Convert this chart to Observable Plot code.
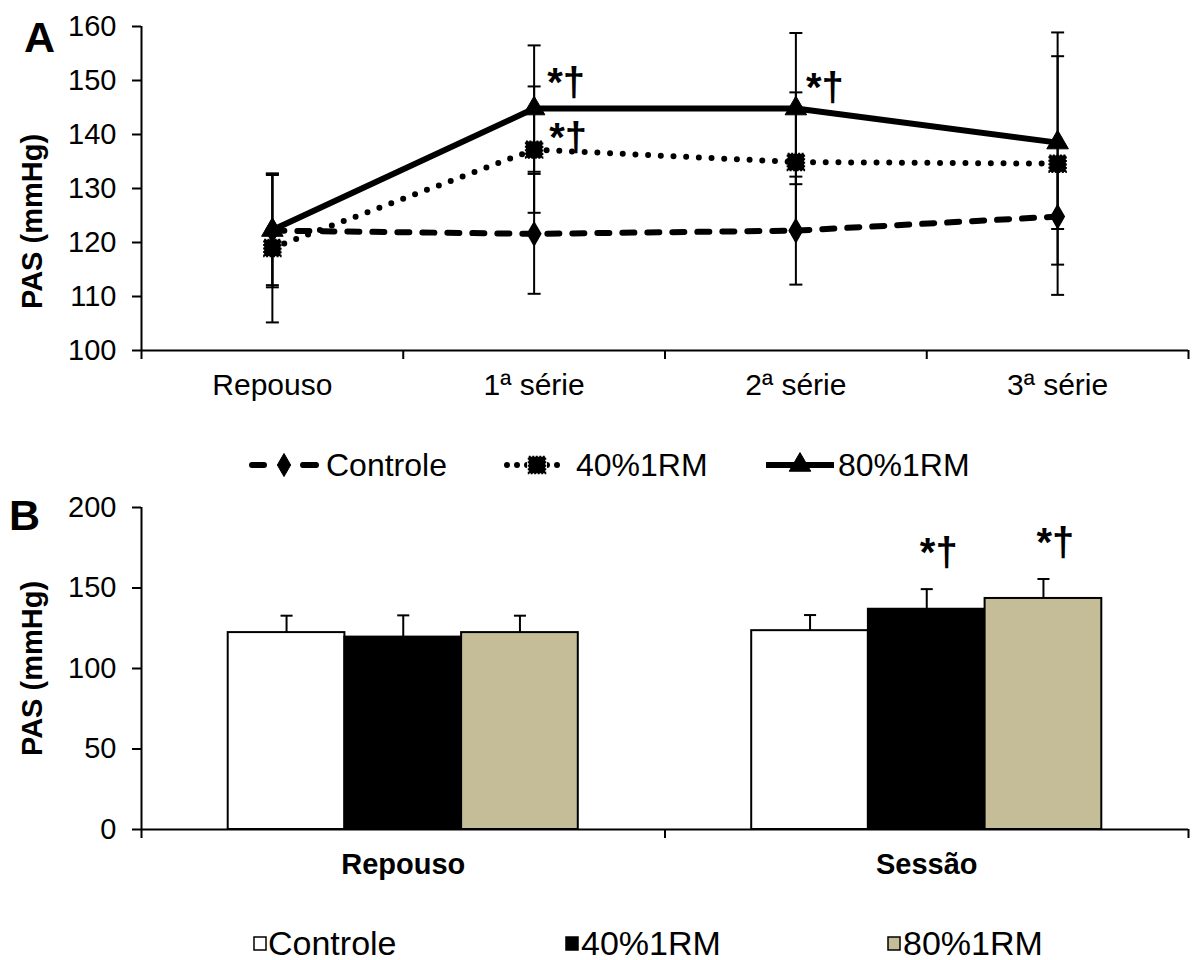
<!DOCTYPE html>
<html>
<head>
<meta charset="utf-8">
<script src="https://cdn.jsdelivr.net/npm/d3@7"></script>
<script src="https://cdn.jsdelivr.net/npm/@observablehq/plot@0.6"></script>
<style>
  body { margin: 0; background: #fff; font-family: "Liberation Sans", Arial, sans-serif; color: #000; }
  #wrap { position: relative; width: 1195px; height: 960px; overflow: hidden; }
  .panel { position: absolute; left: 0; }
  .letter { position: absolute; font-weight: bold; font-size: 43px; line-height: 43px; }
  .leg { position: absolute; display: flex; align-items: center; height: 40px; white-space: nowrap; }
  .leg svg { display: block; }
</style>
</head>
<body>
<div id="wrap">
  <div id="panelA" class="panel" style="top:0px"></div>
  <div class="letter" style="left:24px;top:16px">A</div>
  <div id="legendA"></div>
  <div id="panelB" class="panel" style="top:490px"></div>
  <div class="letter" style="left:9px;top:494px">B</div>
  <div id="legendB"></div>
</div>
<script>
// ---------------- data ----------------
const stagesA = ["Repouso", "1ª série", "2ª série", "3ª série"];
const groups = ["Controle", "40%1RM", "80%1RM"];

// Panel A: means and SD per stage
const meanControle = [122.2, 121.6, 122.2, 124.8];
const sdControle   = [10.5, 11.1, 10.0, 8.9];
const mean40       = [119.0, 137.2, 134.9, 134.6];
const sd40         = [13.8, 11.7, 12.9, 24.3];
const mean80       = [122.3, 144.8, 144.8, 138.5];
const sd80         = [10.2, 11.7, 14.0, 16.0];
const yTicksA = [100, 110, 120, 130, 140, 150, 160];
const sigA = [
  {stage: "1ª série", group: "80%1RM", label: "*†"},
  {stage: "1ª série", group: "40%1RM", label: "*†"},
  {stage: "2ª série", group: "80%1RM", label: "*†"}
];

// Panel B: bars (mean + SD)
const periodsB = ["Repouso", "Sessão"];
const barControle   = [122.3, 123.5];
const barControleSd = [10.5, 9.7];
const bar40         = [119.5, 136.8];
const bar40Sd       = [13.5, 12.5];
const bar80         = [122.3, 143.5];
const bar80Sd       = [10.5, 12.1];
const yTicksB = [0, 50, 100, 150, 200];
const sigB = [
  {period: "Sessão", group: "40%1RM", label: "*†"},
  {period: "Sessão", group: "80%1RM", label: "*†"}
];

// ---------------- tables ----------------
const seriesA = [
  {group: "Controle", mean: meanControle, sd: sdControle},
  {group: "40%1RM", mean: mean40, sd: sd40},
  {group: "80%1RM", mean: mean80, sd: sd80}
];
const rowsA = seriesA.flatMap(s => stagesA.map((st, i) => ({group: s.group, stage: st, pos: i + 0.5, mean: s.mean[i], sd: s.sd[i]})));
const ofA = g => rowsA.filter(d => d.group === g);
const findA = a => rowsA.find(d => d.stage === a.stage && d.group === a.group);

const seriesB = [
  {group: "Controle", mean: barControle, sd: barControleSd},
  {group: "40%1RM", mean: bar40, sd: bar40Sd},
  {group: "80%1RM", mean: bar80, sd: bar80Sd}
];
const rowsB = periodsB.flatMap((p, pi) => seriesB.map(s => ({period: p, pi, group: s.group, value: s.mean[pi], sd: s.sd[pi]})));
const inner = d3.scaleBand().domain(groups).range([0, 1]).paddingInner(0).paddingOuter(0.743);
const bx1 = d => d.pi + inner(d.group);
const bx2 = d => d.pi + inner(d.group) + inner.bandwidth();
const bxc = d => d.pi + inner(d.group) + inner.bandwidth() / 2;
const findB = a => rowsB.find(d => d.period === a.period && d.group === a.group);

// ---------------- styles ----------------
const FONT = "'Liberation Sans', Arial, sans-serif";
const capSymbol = {draw(ctx, size) { const w = Math.sqrt(size) / 2; ctx.moveTo(-w, 0); ctx.lineTo(w, 0); }};
const colorsB = ["#ffffff", "#000000", "#C4BD97"];
const R_DIA = 7, R_SQ = 9.3, R_TRI = 8;

// ---------------- Panel A ----------------
const chartA = Plot.plot({
  width: 1195, height: 410,
  marginLeft: 141, marginRight: 7, marginTop: 26, marginBottom: 60,
  style: {fontFamily: FONT, fontSize: "28px", color: "black", background: "white", overflow: "visible"},
  x: {domain: [0, 4]},
  y: {domain: [100, 160]},
  marks: [
    Plot.ruleX([0], {y1: 100, y2: 160, strokeWidth: 2}),
    Plot.ruleY([100], {strokeWidth: 2}),
    Plot.axisY({ticks: yTicksA, tickSize: 9, tickPadding: 16, strokeWidth: 2, fontSize: 29, label: null}),
    Plot.axisX({ticks: [0, 1, 2, 3, 4], tickSize: 9, tickFormat: () => "", strokeWidth: 2, label: null}),
    Plot.axisX({ticks: stagesA.map((s, i) => i + 0.5), tickSize: 0, tickPadding: 23, tickFormat: v => stagesA[Math.round(v - 0.5)], fontSize: 30, label: null}),
    Plot.text(["PAS (mmHg)"], {text: d => d, frameAnchor: "left", textAnchor: "middle", rotate: -90, dx: -109, dy: 33, fontWeight: "bold", fontSize: 29}),
    // lines
    Plot.line(ofA("Controle"), {x: "pos", y: "mean", stroke: "black", strokeWidth: 6, strokeDasharray: "12 13", strokeLinecap: "round"}),
    Plot.line(ofA("40%1RM"), {x: "pos", y: "mean", stroke: "black", strokeWidth: 6, strokeDasharray: "0 12.7", strokeLinecap: "round"}),
    Plot.line(ofA("80%1RM"), {x: "pos", y: "mean", stroke: "black", strokeWidth: 6}),
    // error bars
    Plot.ruleX(rowsA, {x: "pos", y1: d => d.mean - d.sd, y2: d => d.mean + d.sd, stroke: "black", strokeWidth: 2}),
    Plot.dot(rowsA, {x: "pos", y: d => d.mean + d.sd, symbol: capSymbol, r: 7.33, stroke: "black", fill: "none", strokeWidth: 2}),
    Plot.dot(rowsA, {x: "pos", y: d => d.mean - d.sd, symbol: capSymbol, r: 7.33, stroke: "black", fill: "none", strokeWidth: 2}),
    // markers
    Plot.dot(ofA("Controle"), {x: "pos", y: "mean", symbol: "diamond", r: R_DIA, fill: "black", stroke: "black", strokeWidth: 1.5}),
    Plot.dot(ofA("40%1RM"), {x: "pos", y: "mean", symbol: "square", r: R_SQ, fill: "black", stroke: "black", strokeWidth: 2, strokeDasharray: "2 1.5"}),
    Plot.dot(ofA("80%1RM"), {x: "pos", y: "mean", symbol: "triangle", r: R_TRI, fill: "black", stroke: "black", strokeWidth: 1}),
    // significance marks
    Plot.text([findA(sigA[0])], {x: "pos", y: "mean", text: () => sigA[0].label, textAnchor: "start", dx: 13, dy: -25, fontSize: 40, fontWeight: "bold"}),
    Plot.text([findA(sigA[1])], {x: "pos", y: "mean", text: () => sigA[1].label, textAnchor: "start", dx: 15, dy: -11, fontSize: 40, fontWeight: "bold"}),
    Plot.text([findA(sigA[2])], {x: "pos", y: "mean", text: () => sigA[2].label, textAnchor: "start", dx: 10, dy: -20, fontSize: 40, fontWeight: "bold"})
  ]
});
document.getElementById("panelA").appendChild(chartA);

// ---------------- Panel B ----------------
const chartB = Plot.plot({
  width: 1195, height: 399,
  marginLeft: 141, marginRight: 7, marginTop: 17, marginBottom: 60,
  style: {fontFamily: FONT, fontSize: "28px", color: "black", background: "white", overflow: "visible"},
  x: {domain: [0, 2]},
  y: {domain: [0, 200]},
  color: {domain: groups, range: colorsB},
  marks: [
    Plot.rectY(rowsB, {x1: bx1, x2: bx2, y1: 0, y2: "value", fill: "group", stroke: "black", strokeWidth: 2}),
    Plot.ruleX(rowsB, {x: bxc, y1: "value", y2: d => d.value + d.sd, stroke: "black", strokeWidth: 2}),
    Plot.dot(rowsB, {x: bxc, y: d => d.value + d.sd, symbol: capSymbol, r: 6.8, stroke: "black", fill: "none", strokeWidth: 2}),
    Plot.ruleX([0], {y1: 0, y2: 200, strokeWidth: 2}),
    Plot.ruleY([0], {strokeWidth: 2}),
    Plot.axisY({ticks: yTicksB, tickSize: 9, tickPadding: 16, strokeWidth: 2, fontSize: 29, label: null}),
    Plot.axisX({ticks: [0, 1, 2], tickSize: 9, tickFormat: () => "", strokeWidth: 2, label: null}),
    Plot.axisX({ticks: [0.5, 1.5], tickSize: 0, tickPadding: 24, tickFormat: v => periodsB[Math.floor(v)], fontSize: 29, fontWeight: "bold", label: null}),
    Plot.text(["PAS (mmHg)"], {text: d => d, frameAnchor: "left", textAnchor: "middle", rotate: -90, dx: -109, dy: 0, fontWeight: "bold", fontSize: 29}),
    Plot.text(sigB.map(findB), {x: bxc, y: d => d.value + d.sd, text: d => sigB.find(s => s.period === d.period && s.group === d.group).label, textAnchor: "middle", dx: 12, dy: -36, fontSize: 40, fontWeight: "bold"})
  ]
});
document.getElementById("panelB").appendChild(chartB);

// ---------------- Legends ----------------
function swatchA(g) {
  const svg = d3.create("svg").attr("width", 72).attr("height", 30);
  const line = svg.append("line").attr("x1", 4).attr("x2", 68).attr("y1", 15).attr("y2", 15).attr("stroke", "black");
  let sym;
  if (g === "Controle") {
    line.attr("stroke-width", 6).attr("stroke-dasharray", "12 39").attr("stroke-linecap", "round");
    svg.append("line").attr("x1", 56).attr("x2", 68).attr("y1", 15).attr("y2", 15).attr("stroke", "black").attr("stroke-width", 6).attr("stroke-linecap", "round");
    sym = d3.symbol(d3.symbolDiamond, Math.PI * R_DIA * R_DIA)();
  } else if (g === "40%1RM") {
    line.attr("stroke-width", 6).attr("stroke-dasharray", "0 10").attr("stroke-linecap", "round").attr("x1", 6).attr("x2", 66);
    sym = d3.symbol(d3.symbolSquare, Math.PI * R_SQ * R_SQ)();
  } else {
    line.attr("stroke-width", 6).attr("x1", 2).attr("x2", 70);
    sym = d3.symbol(d3.symbolTriangle, Math.PI * R_TRI * R_TRI)();
  }
  const p = svg.append("path").attr("d", sym).attr("transform", "translate(36,15)").attr("fill", "black").attr("stroke", "black");
  if (g === "40%1RM") {
    svg.insert("rect", "path").attr("x", 26).attr("y", 5).attr("width", 20).attr("height", 20).attr("fill", "white");
    p.attr("stroke-width", 2).attr("stroke-dasharray", "2 1.5");
  }
  return svg.node();
}
const legA = document.getElementById("legendA");
const legAPos = [[248, 326], [501, 576], [764, 838]];
groups.forEach((g, i) => {
  const sw = document.createElement("div");
  sw.className = "leg"; sw.style.left = legAPos[i][0] + "px"; sw.style.top = (465 - 20) + "px";
  sw.appendChild(swatchA(g));
  legA.appendChild(sw);
  const tx = document.createElement("div");
  tx.className = "leg"; tx.style.left = legAPos[i][1] + "px"; tx.style.top = (465 - 20) + "px";
  tx.style.fontSize = "32px";
  tx.textContent = g;
  legA.appendChild(tx);
});

const legB = document.getElementById("legendB");
const legBPos = [[253, 268], [565, 581], [887, 903]];
groups.forEach((g, i) => {
  const sw = document.createElement("div");
  sw.className = "leg"; sw.style.left = legBPos[i][0] + "px"; sw.style.top = (943 - 20) + "px";
  const s = d3.create("svg").attr("width", 14).attr("height", 16);
  s.append("rect").attr("x", 1).attr("y", 2).attr("width", 12).attr("height", 13).attr("fill", colorsB[i]).attr("stroke", "black").attr("stroke-width", 1.5);
  sw.appendChild(s.node());
  legB.appendChild(sw);
  const tx = document.createElement("div");
  tx.className = "leg"; tx.style.left = legBPos[i][1] + "px"; tx.style.top = (943 - 20) + "px";
  tx.style.fontSize = "34px";
  tx.textContent = g;
  legB.appendChild(tx);
});
</script>
</body>
</html>
